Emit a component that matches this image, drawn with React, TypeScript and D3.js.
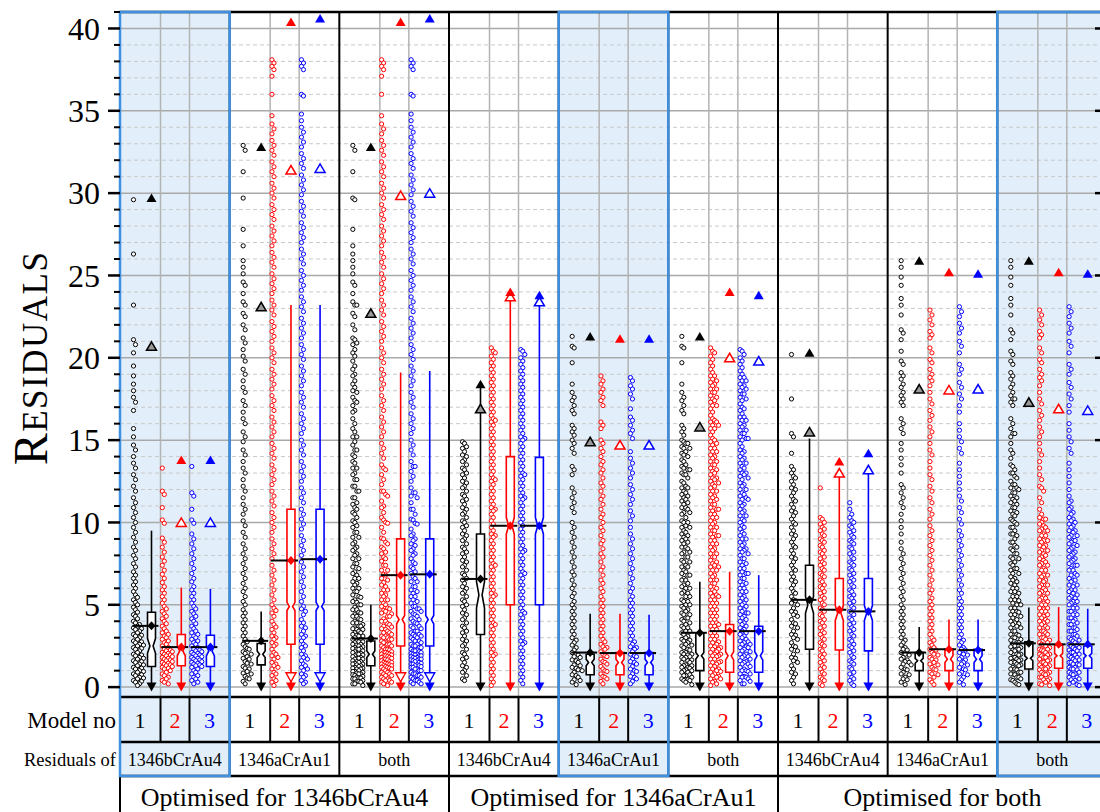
import React from 'react';
import * as d3 from 'd3';

const W = 1100;
const H = 812;

// ---------- residual samples: optimised for 1346bCrAu4 ----------
const optB_resB_m1 = [29.6, 26.3, 23.2, 21.1, 20.8, 20.3, 19.5, 18.9, 18.4, 18.0, 17.6, 17.3, 16.8, 15.7, 15.2, 14.7, 14.4, 14.0, 13.6, 13.3, 12.9, 12.6, 12.2, 11.9, 11.5, 11.2, 10.9, 10.6, 10.3, 10.0, 9.7, 9.4, 9.1, 8.8, 8.5, 8.3, 8.0, 7.8, 7.5, 7.3, 7.0, 6.8, 6.6, 6.4, 6.2, 6.0, 5.8, 5.6, 5.45, 5.3, 5.15, 5.0, 4.85, 4.7, 4.55, 4.4, 4.3, 4.15, 4.0, 3.9, 3.8, 3.7, 3.6, 3.5, 3.4, 3.3, 3.2, 3.1, 3.0, 2.9, 2.8, 2.7, 2.6, 2.5, 2.4, 2.3, 2.2, 2.1, 2.0, 1.9, 1.8, 1.7, 1.6, 1.5, 1.4, 1.3, 1.2, 1.1, 1.0, 0.9, 0.8, 0.7, 0.6, 0.5, 0.4, 0.3, 0.2, 0.1, 3.55, 3.15, 2.75, 2.35, 1.95, 1.55, 1.15, 0.75, 0.35, 2.55, 1.75, 0.95, 1.35, 0.55];
const optB_resB_m2 = [13.3, 11.9, 11.7, 10.9, 10.15, 9.95, 9.05, 8.8, 8.5, 8.2, 7.9, 7.65, 7.4, 7.1, 6.85, 6.6, 6.35, 6.1, 5.9, 5.7, 5.5, 5.3, 5.1, 4.9, 4.75, 4.6, 4.45, 4.3, 4.15, 4.0, 3.85, 3.7, 3.55, 3.4, 3.3, 3.2, 3.1, 3.0, 2.9, 2.8, 2.7, 2.6, 2.5, 2.4, 2.3, 2.2, 2.1, 2.0, 1.9, 1.8, 1.7, 1.6, 1.5, 1.4, 1.3, 1.2, 1.1, 1.0, 0.9, 0.8, 0.7, 0.6, 0.5, 0.4, 0.3, 0.2, 2.25, 2.05, 1.85, 1.65, 1.45, 1.25, 1.95, 1.75, 1.55, 1.35, 2.15, 1.15];
const optB_resB_m3 = [13.4, 11.8, 11.6, 10.8, 10.15, 9.95, 9.3, 9.0, 8.7, 8.4, 8.1, 7.8, 7.5, 7.2, 6.9, 6.6, 6.4, 6.1, 5.9, 5.7, 5.5, 5.3, 5.1, 4.9, 4.75, 4.6, 4.45, 4.3, 4.15, 4.0, 3.85, 3.7, 3.55, 3.4, 3.3, 3.2, 3.1, 3.0, 2.9, 2.8, 2.7, 2.6, 2.5, 2.4, 2.3, 2.2, 2.1, 2.0, 1.9, 1.8, 1.7, 1.6, 1.5, 1.4, 1.3, 1.2, 1.1, 1.0, 0.9, 0.8, 0.7, 0.6, 0.5, 0.4, 0.3, 0.2, 2.25, 2.05, 1.85, 1.65, 1.45, 1.25, 1.95, 1.75, 1.55, 1.35, 2.15];
const optB_resA_m1 = [32.9, 32.6, 31.3, 29.7, 27.8, 26.8, 25.9, 25.5, 25.1, 24.6, 24.4, 23.9, 23.4, 23.2, 22.7, 22.5, 22.0, 21.7, 21.2, 20.9, 20.5, 20.1, 19.8, 19.3, 19.0, 18.6, 18.2, 17.9, 17.4, 17.1, 16.7, 16.3, 16.0, 15.5, 15.2, 14.9, 14.4, 14.1, 13.7, 13.3, 13.0, 12.6, 12.2, 11.9, 11.5, 11.1, 10.8, 10.5, 10.1, 9.8, 9.4, 9.1, 8.7, 8.4, 8.1, 7.8, 7.5, 7.2, 6.9, 6.6, 6.3, 6.0, 5.8, 5.5, 5.2, 5.0, 4.7, 4.5, 4.3, 4.1, 3.9, 3.7, 3.5, 3.3, 3.1, 2.9, 2.75, 2.6, 2.45, 2.3, 2.15, 2.0, 1.85, 1.7, 1.55, 1.4, 1.25, 1.1, 0.95, 0.8, 0.65, 0.5, 0.35, 0.2, 2.05, 1.75, 1.45, 1.15, 0.85, 0.55, 2.35];
const optB_resA_m2 = [38.1, 37.9, 37.7, 37.5, 37.1, 36.0, 34.7, 34.2, 33.9, 33.6, 33.2, 32.9, 32.6, 32.3, 31.9, 31.6, 31.3, 31.0, 30.6, 30.3, 30.0, 29.7, 29.3, 29.0, 28.7, 28.4, 28.0, 27.7, 27.4, 27.1, 26.8, 26.4, 26.1, 25.8, 25.5, 25.1, 24.8, 24.5, 24.2, 23.9, 23.5, 23.2, 22.9, 22.6, 22.2, 21.9, 21.6, 21.3, 21.0, 20.6, 20.3, 20.0, 19.7, 19.3, 19.0, 18.7, 18.4, 18.1, 17.7, 17.4, 17.1, 16.8, 16.4, 16.1, 15.8, 15.5, 15.2, 14.8, 14.5, 14.2, 13.9, 13.5, 13.2, 12.9, 12.6, 12.3, 11.9, 11.6, 11.3, 11.0, 10.6, 10.3, 10.0, 9.7, 9.4, 9.0, 8.7, 8.4, 8.1, 7.8, 7.4, 7.1, 6.8, 6.5, 6.2, 5.9, 5.6, 5.3, 5.0, 4.8, 4.5, 4.3, 4.0, 3.8, 3.5, 3.3, 3.1, 2.9, 2.7, 2.5, 2.3, 2.1, 1.9, 1.7, 1.5, 1.3, 1.1, 0.9, 0.7, 0.5, 0.3, 0.1, 4.65, 3.65, 2.6, 2.0, 1.4, 0.8, 0.4, 3.0, 1.8, 1.2];
const optB_resA_m3 = [38.1, 37.9, 37.7, 37.5, 36.0, 35.9, 34.8, 34.4, 34.0, 33.7, 33.4, 33.1, 32.8, 32.4, 32.1, 31.8, 31.5, 31.1, 30.8, 30.5, 30.2, 29.9, 29.5, 29.2, 28.9, 28.6, 28.2, 27.9, 27.6, 27.3, 27.0, 26.6, 26.3, 26.0, 25.7, 25.3, 25.0, 24.7, 24.4, 24.1, 23.7, 23.4, 23.1, 22.8, 22.4, 22.1, 21.8, 21.5, 21.2, 20.8, 20.5, 20.2, 19.9, 19.5, 19.2, 18.9, 18.6, 18.3, 17.9, 17.6, 17.3, 17.0, 16.6, 16.3, 16.0, 15.7, 15.4, 15.0, 14.7, 14.4, 14.1, 13.7, 13.4, 13.1, 12.8, 12.5, 12.1, 11.8, 11.5, 11.2, 10.8, 10.5, 10.2, 9.9, 9.6, 9.2, 8.9, 8.6, 8.3, 8.0, 7.6, 7.3, 7.0, 6.7, 6.4, 6.1, 5.8, 5.5, 5.2, 4.9, 4.6, 4.4, 4.1, 3.9, 3.6, 3.4, 3.2, 3.0, 2.8, 2.6, 2.4, 2.2, 2.0, 1.8, 1.6, 1.4, 1.2, 1.0, 0.8, 0.6, 0.4, 0.2, 4.75, 3.7, 2.5, 1.9, 1.3, 0.7, 0.3, 3.1, 1.7, 1.1];

// ---------- residual samples: optimised for 1346aCrAu1 ----------
const optA_resB_m1 = [14.9, 14.8, 14.6, 14.5, 14.3, 14.1, 14.0, 13.8, 13.7, 13.5, 13.3, 13.2, 13.0, 12.9, 12.7, 12.5, 12.4, 12.2, 12.1, 11.9, 11.7, 11.6, 11.4, 11.3, 11.1, 10.9, 10.8, 10.6, 10.5, 10.3, 10.1, 10.0, 9.8, 9.7, 9.5, 9.3, 9.2, 9.0, 8.9, 8.7, 8.5, 8.4, 8.2, 8.1, 7.9, 7.7, 7.6, 7.4, 7.3, 7.1, 6.9, 6.8, 6.6, 6.5, 6.3, 6.1, 6.0, 5.8, 5.7, 5.5, 5.3, 5.2, 5.0, 4.9, 4.7, 4.5, 4.4, 4.2, 4.1, 3.9, 3.7, 3.6, 3.4, 3.3, 3.1, 2.9, 2.8, 2.6, 2.5, 2.3, 2.1, 2.0, 1.8, 1.7, 1.5, 1.3, 1.2, 1.0, 0.9, 0.7, 0.5, 0.4];
const optA_resB_m2 = [20.6, 20.4, 20.3, 20.1, 19.9, 19.7, 19.5, 19.3, 19.1, 18.9, 18.7, 18.5, 18.3, 18.1, 17.9, 17.7, 17.5, 17.3, 17.1, 16.9, 16.7, 16.5, 16.3, 16.1, 15.9, 15.7, 15.5, 15.3, 15.1, 14.9, 14.7, 14.5, 14.3, 14.1, 13.9, 13.7, 13.5, 13.3, 13.1, 12.9, 12.7, 12.5, 12.3, 12.1, 11.9, 11.7, 11.5, 11.3, 11.1, 10.9, 10.7, 10.5, 10.3, 10.1, 9.9, 9.7, 9.5, 9.3, 9.1, 8.9, 8.7, 8.5, 8.3, 8.1, 7.9, 7.7, 7.5, 7.3, 7.1, 6.9, 6.7, 6.5, 6.3, 6.1, 5.9, 5.7, 5.5, 5.3, 5.1, 4.9, 4.7, 4.5, 4.3, 4.1, 3.9, 3.7, 3.5, 3.3, 3.1, 2.9, 2.7, 2.5, 2.3, 2.1, 1.9, 1.7, 1.5, 1.3, 1.1, 0.9, 0.7, 0.5, 0.3, 0.1, 12.6, 10.8, 9.2, 7.4, 5.6, 3.8, 2.0, 16.2];
const optA_resB_m3 = [20.5, 20.4, 20.2, 20.0, 19.8, 19.6, 19.4, 19.2, 19.0, 18.8, 18.6, 18.4, 18.2, 18.0, 17.8, 17.6, 17.4, 17.2, 17.0, 16.8, 16.6, 16.4, 16.2, 16.0, 15.8, 15.6, 15.4, 15.2, 15.0, 14.8, 14.6, 14.4, 14.2, 14.0, 13.8, 13.6, 13.4, 13.2, 13.0, 12.8, 12.6, 12.4, 12.2, 12.0, 11.8, 11.6, 11.4, 11.2, 11.0, 10.8, 10.6, 10.4, 10.2, 10.0, 9.8, 9.6, 9.4, 9.2, 9.0, 8.8, 8.6, 8.4, 8.2, 8.0, 7.8, 7.6, 7.4, 7.2, 7.0, 6.8, 6.6, 6.4, 6.2, 6.0, 5.8, 5.6, 5.4, 5.2, 5.0, 4.8, 4.6, 4.4, 4.2, 4.0, 3.8, 3.6, 3.4, 3.2, 3.0, 2.8, 2.6, 2.4, 2.2, 2.0, 1.8, 1.6, 1.4, 1.2, 1.0, 0.8, 0.6, 0.4, 0.2, 15.1, 12.9, 11.5, 8.3, 6.9, 4.5, 2.7];
const optA_resA_m1 = [21.3, 20.7, 20.6, 19.7, 18.4, 17.9, 17.6, 17.4, 17.1, 16.8, 16.6, 15.9, 15.7, 15.5, 15.3, 15.0, 14.8, 14.5, 14.2, 13.4, 13.2, 12.9, 12.1, 11.8, 11.5, 11.2, 10.9, 10.6, 10.0, 9.7, 9.4, 9.1, 8.8, 8.5, 8.2, 7.9, 7.6, 7.3, 7.0, 6.8, 6.5, 6.2, 6.0, 5.7, 5.5, 5.2, 5.0, 4.8, 4.6, 4.4, 4.2, 4.0, 3.8, 3.6, 3.4, 3.2, 3.0, 2.85, 2.7, 2.55, 2.4, 2.25, 2.1, 1.95, 1.8, 1.65, 1.5, 1.35, 1.2, 1.05, 0.9, 0.75, 0.6, 0.45, 0.3, 0.15, 2.0, 1.6, 1.3, 1.0, 0.7, 0.4, 1.85, 1.15];
const optA_resA_m2 = [18.9, 18.6, 18.4, 18.1, 17.9, 17.6, 17.4, 17.1, 16.1, 15.9, 15.7, 15.0, 14.8, 14.5, 14.3, 14.0, 13.7, 13.5, 13.2, 13.0, 12.7, 12.4, 12.2, 11.9, 11.6, 11.4, 11.1, 10.8, 10.5, 10.3, 10.0, 9.7, 9.5, 9.2, 8.9, 8.7, 8.4, 8.1, 7.9, 7.6, 7.3, 7.1, 6.8, 6.5, 6.3, 6.0, 5.8, 5.5, 5.3, 5.1, 4.9, 4.7, 4.5, 4.3, 4.1, 3.9, 3.7, 3.5, 3.3, 3.1, 2.9, 2.75, 2.6, 2.45, 2.3, 2.15, 2.0, 1.85, 1.7, 1.55, 1.4, 1.25, 1.1, 0.95, 0.8, 0.65, 0.5, 0.35, 0.2, 2.4, 1.9, 1.5, 1.0, 0.6];
const optA_resA_m3 = [18.8, 18.6, 18.3, 18.1, 17.8, 17.5, 16.9, 16.4, 16.2, 15.9, 15.6, 15.4, 15.1, 14.3, 13.9, 13.6, 13.3, 13.0, 12.7, 12.3, 12.0, 11.7, 11.4, 11.1, 10.7, 10.4, 10.1, 9.7, 9.3, 9.0, 8.7, 8.4, 8.1, 7.8, 7.5, 7.2, 6.9, 6.6, 6.3, 6.0, 5.8, 5.5, 5.3, 5.1, 4.9, 4.7, 4.5, 4.3, 4.1, 3.9, 3.7, 3.5, 3.3, 3.1, 2.9, 2.75, 2.6, 2.45, 2.3, 2.15, 2.0, 1.85, 1.7, 1.55, 1.4, 1.25, 1.1, 0.95, 0.8, 0.65, 0.5, 0.35, 0.2, 2.4, 1.9, 1.5, 1.0, 0.6];

// ---------- residual samples: optimised for both ----------
const optAB_resB_m1 = [20.2, 17.5, 15.4, 15.2, 14.2, 13.4, 13.2, 13.0, 12.8, 12.7, 12.5, 12.3, 12.1, 12.0, 11.8, 11.6, 11.4, 11.3, 11.1, 10.9, 10.7, 10.6, 10.4, 10.2, 10.0, 9.9, 9.7, 9.5, 9.3, 9.2, 9.0, 8.8, 8.6, 8.5, 8.3, 8.1, 7.9, 7.8, 7.6, 7.4, 7.2, 7.1, 6.9, 6.7, 6.5, 6.4, 6.2, 6.0, 5.8, 5.7, 5.5, 5.3, 5.1, 5.0, 4.8, 4.6, 4.4, 4.3, 4.1, 3.9, 3.7, 3.6, 3.4, 3.2, 3.0, 2.9, 2.7, 2.5, 2.3, 2.2, 2.0, 1.8, 1.6, 1.5, 1.3, 1.1, 0.9, 0.8, 0.6, 0.4, 0.2, 5.25, 4.55, 3.85, 3.15, 2.45, 1.75];
const optAB_resB_m2 = [12.1, 10.3, 10.2, 10.0, 9.9, 9.7, 9.6, 9.5, 9.3, 9.2, 9.0, 8.9, 8.8, 8.6, 8.5, 8.3, 8.2, 8.1, 7.9, 7.8, 7.6, 7.5, 7.4, 7.2, 7.1, 6.9, 6.8, 6.7, 6.5, 6.4, 6.2, 6.1, 6.0, 5.8, 5.7, 5.5, 5.4, 5.3, 5.1, 5.0, 4.8, 4.7, 4.6, 4.4, 4.3, 4.1, 4.0, 3.9, 3.7, 3.6, 3.4, 3.3, 3.2, 3.0, 2.9, 2.7, 2.6, 2.5, 2.3, 2.2, 2.0, 1.9, 1.8, 1.6, 1.5, 1.3, 1.2, 1.1, 0.9, 0.8, 0.6, 0.5, 0.4, 0.2, 0.1];
const optAB_resB_m3 = [11.2, 10.8, 10.5, 10.3, 10.1, 10.0, 9.8, 9.7, 9.5, 9.4, 9.2, 9.1, 8.9, 8.8, 8.7, 8.5, 8.4, 8.2, 8.1, 7.9, 7.8, 7.6, 7.5, 7.4, 7.2, 7.1, 6.9, 6.8, 6.6, 6.5, 6.4, 6.2, 6.1, 5.9, 5.8, 5.6, 5.5, 5.4, 5.2, 5.1, 4.9, 4.8, 4.6, 4.5, 4.4, 4.2, 4.1, 3.9, 3.8, 3.6, 3.5, 3.4, 3.2, 3.1, 2.9, 2.8, 2.6, 2.5, 2.4, 2.2, 2.1, 1.9, 1.8, 1.6, 1.5, 1.4, 1.2, 1.1, 0.9, 0.8, 0.6, 0.5, 0.4, 0.2, 0.1];
const optAB_resA_m1 = [25.9, 25.5, 24.9, 24.4, 23.6, 23.2, 22.6, 21.7, 21.5, 21.1, 20.4, 19.8, 19.6, 19.1, 18.9, 18.7, 18.4, 18.2, 17.9, 17.7, 17.5, 17.3, 17.1, 16.3, 16.0, 15.7, 15.4, 14.8, 14.4, 13.9, 13.5, 13.0, 12.3, 12.1, 11.8, 11.5, 11.2, 10.9, 10.5, 10.1, 9.7, 9.3, 8.8, 8.4, 8.1, 7.8, 7.5, 7.2, 6.9, 6.6, 6.3, 6.0, 5.8, 5.5, 5.3, 5.0, 4.8, 4.6, 4.4, 4.2, 4.0, 3.8, 3.6, 3.4, 3.2, 3.0, 2.85, 2.7, 2.55, 2.4, 2.25, 2.1, 1.95, 1.8, 1.65, 1.5, 1.35, 1.2, 1.05, 0.9, 0.75, 0.6, 0.45, 0.3, 0.15, 2.0, 1.7, 1.4, 1.1, 0.8, 0.5, 2.3, 1.55];
const optAB_resA_m2 = [22.9, 22.6, 22.3, 22.0, 21.6, 21.4, 21.2, 20.6, 20.3, 19.9, 19.7, 19.3, 19.0, 18.8, 18.6, 18.3, 17.9, 17.5, 17.2, 16.8, 16.5, 16.2, 15.8, 15.5, 15.2, 14.8, 14.4, 14.1, 13.7, 13.3, 12.9, 12.6, 12.2, 11.9, 11.5, 11.2, 10.8, 10.5, 10.2, 9.8, 9.5, 9.2, 8.9, 8.6, 8.3, 8.0, 7.7, 7.4, 7.1, 6.8, 6.5, 6.2, 5.9, 5.7, 5.4, 5.2, 5.0, 4.8, 4.6, 4.4, 4.2, 4.0, 3.8, 3.6, 3.4, 3.2, 3.0, 2.85, 2.7, 2.55, 2.4, 2.25, 2.1, 1.95, 1.8, 1.65, 1.5, 1.35, 1.2, 1.05, 0.9, 0.75, 0.6, 0.45, 0.3, 0.15, 2.0, 1.7, 1.4, 1.1, 0.8, 2.3];
const optAB_resA_m3 = [23.1, 22.8, 22.5, 22.1, 21.8, 21.5, 21.0, 20.7, 20.3, 19.6, 19.3, 19.0, 18.5, 18.2, 17.8, 17.5, 17.1, 16.7, 16.0, 15.6, 15.2, 14.9, 14.5, 14.2, 13.6, 13.2, 12.8, 12.4, 12.0, 11.6, 11.3, 10.9, 10.6, 10.2, 9.9, 9.5, 9.2, 8.9, 8.6, 8.3, 8.0, 7.7, 7.4, 7.1, 6.8, 6.5, 6.2, 5.9, 5.7, 5.4, 5.2, 5.0, 4.8, 4.6, 4.4, 4.2, 4.0, 3.8, 3.6, 3.4, 3.2, 3.0, 2.85, 2.7, 2.55, 2.4, 2.25, 2.1, 1.95, 1.8, 1.65, 1.5, 1.35, 1.2, 1.05, 0.9, 0.75, 0.6, 0.45, 0.3, 0.15, 2.0, 1.7, 1.4, 1.1, 0.8, 2.3];

// ---------- per-column summaries (group-major: 9 groups x models 1,2,3) ----------
const boxLow = [1.25, 1.3, 1.25, 1.35, 2.6, 2.6, 1.3, 2.5, 2.5, 3.2, 5.0, 5.0, 0.75, 0.75, 0.75, 1.0, 0.9, 0.9, 2.3, 2.25, 2.2, 1.0, 1.0, 1.0, 1.1, 1.15, 1.15];
const boxMid = [2.5, 2.2, 2.2, 2.0, 4.9, 4.9, 2.0, 4.1, 4.1, 5.6, 9.8, 9.8, 1.5, 1.5, 1.5, 1.9, 1.9, 1.9, 5.0, 4.5, 4.5, 1.6, 1.7, 1.7, 1.75, 1.9, 1.9];
const boxHigh = [4.55, 3.2, 3.15, 2.65, 10.8, 10.8, 2.8, 9.0, 9.0, 9.3, 14.0, 13.95, 2.0, 2.1, 2.1, 3.3, 3.8, 3.7, 7.4, 6.6, 6.6, 2.1, 2.3, 2.3, 2.75, 2.55, 2.5];
const whiskerHigh = [9.5, 6.05, 5.97, 4.6, 23.2, 23.2, 5.0, 19.1, 19.2, 18.4, 23.8, 23.5, 4.45, 4.45, 4.4, 6.4, 7.0, 6.8, 15.1, 13.0, 13.2, 3.65, 4.1, 4.1, 4.84, 4.86, 4.76];
const meanValue = [3.72, 2.43, 2.43, 2.81, 7.69, 7.77, 2.95, 6.8, 6.85, 6.57, 9.8, 9.8, 2.1, 2.07, 2.07, 3.3, 3.4, 3.4, 5.3, 4.7, 4.6, 2.1, 2.3, 2.25, 2.66, 2.6, 2.6];
const peakMark = [29.7, 13.8, 13.8, 32.8, 40.4, 40.6, 32.8, 40.4, 40.6, 18.4, 24.0, 23.8, 21.3, 21.15, 21.15, 21.3, 24.0, 23.8, 20.3, 13.7, 14.2, 25.9, 25.2, 25.1, 25.9, 25.2, 25.1];
const upperMark = [20.7, 10.0, 10.0, 23.1, 31.4, 31.5, 22.7, 29.85, 30.0, 16.9, 23.7, 23.4, 14.9, 14.7, 14.7, 15.8, 20.0, 19.8, 15.5, 13.0, 13.2, 18.1, 18.05, 18.1, 17.3, 16.9, 16.8];
const notchHalf = [0.45, 0.3, 0.3, 0.2, 0.25, 0.25, 0.2, 0.25, 0.25, 0.8, 0.5, 0.5, 0.2, 0.2, 0.2, 0.2, 0.25, 0.25, 0.5, 0.45, 0.45, 0.15, 0.2, 0.2, 0.15, 0.15, 0.15];
const lowerMark: (number | null)[] = [null, null, null, null, 0.6, 0.6, null, 0.6, 0.6, null, null, null, null, null, null, null, null, null, null, null, null, null, null, null, null, null, null];
const minValue = 0;

// ---------- labels ----------
const optimisedFor = ['Optimised for 1346bCrAu4', 'Optimised for 1346aCrAu1', 'Optimised for both'];
const residualsOf = ['1346bCrAu4', '1346aCrAu1', 'both'];
const modelNumbers = ['1', '2', '3'];
const modelColors = ['#000000', '#ff0000', '#0000ff'];
const highlightedGroups = [0, 4, 8];
const yTicks = [0, 5, 10, 15, 20, 25, 30, 35, 40];

const joinSets = (a: number[], b: number[]) => a.concat(b);

const groupSamples: number[][][] = [
  [optB_resB_m1, optB_resB_m2, optB_resB_m3],
  [optB_resA_m1, optB_resA_m2, optB_resA_m3],
  [joinSets(optB_resB_m1, optB_resA_m1), joinSets(optB_resB_m2, optB_resA_m2), joinSets(optB_resB_m3, optB_resA_m3)],
  [optA_resB_m1, optA_resB_m2, optA_resB_m3],
  [optA_resA_m1, optA_resA_m2, optA_resA_m3],
  [joinSets(optA_resB_m1, optA_resA_m1), joinSets(optA_resB_m2, optA_resA_m2), joinSets(optA_resB_m3, optA_resA_m3)],
  [optAB_resB_m1, optAB_resB_m2, optAB_resB_m3],
  [optAB_resA_m1, optAB_resA_m2, optAB_resA_m3],
  [joinSets(optAB_resB_m1, optAB_resA_m1), joinSets(optAB_resB_m2, optAB_resA_m2), joinSets(optAB_resB_m3, optAB_resA_m3)],
];

const FONT = "'Liberation Serif', 'DejaVu Serif', serif";
const HL_FILL = '#e2effb';
const HL_STROKE = '#3f90e0';

// plot geometry
const PLOT_TOP = 12;
const PLOT_BOTTOM = 697;
const ROW1 = 742;
const ROW2 = 776;
const LEFT = 120;
const RIGHT = 1107;
const SUB_EDGES = [40.5, 69.5];
const POINT_OFFSETS = [13.5, 42.3, 71.8];
const BOX_OFFSETS = [31.5, 61.3, 90.4];
const CELL_CENTERS = [20, 55, 89.5];

// stack circles sideways where they would overlap vertically
function dodge(values: number[], y: (v: number) => number, laneStep = 2, gap = 6.5, lanes = 6) {
  const pts = values.map((v) => ({ v, py: y(v) })).sort((a, b) => a.py - b.py);
  const last = new Array(lanes).fill(-1e9);
  return pts.map((p) => {
    let k = last.findIndex((l) => p.py - l >= gap);
    if (k < 0) {
      k = 0;
      for (let i = 1; i < lanes; i++) if (last[i] < last[k]) k = i;
    }
    last[k] = p.py;
    return { ...p, dx: k * laneStep };
  });
}

const upTri = (cx: number, cy: number) => `M${cx - 5},${cy + 4}L${cx + 5},${cy + 4}L${cx},${cy - 4.5}Z`;
const downTri = (cx: number, cy: number) => `M${cx - 5},${cy - 4.5}L${cx + 5},${cy - 4.5}L${cx},${cy + 4.5}Z`;

export default function App() {
  const y = d3.scaleLinear().domain([-0.6, 41]).range([PLOT_BOTTOM, PLOT_TOP]);
  const gx = d3.scaleBand<number>().domain(d3.range(9)).range([LEFT, RIGHT]).paddingInner(0).paddingOuter(0);
  const bw = gx.bandwidth();
  const gridValues = d3.range(0, 41);
  const minorTicks = d3.range(0, 42).filter((v) => v % 5 !== 0);

  const columns = groupSamples.flatMap((models, gi) =>
    models.map((vals, mi) => {
      const idx = gi * 3 + mi;
      const g = gx(gi) as number;
      return {
        idx,
        gi,
        mi,
        color: modelColors[mi],
        px: g + POINT_OFFSETS[mi],
        bx: g + BOX_OFFSETS[mi],
        pts: dodge(vals, y),
      };
    })
  );

  const notchPath = (bx: number, i: number) => {
    const hw = 4;
    const pinch = 1.6;
    const q1 = y(boxLow[i]);
    const q3 = y(boxHigh[i]);
    const md = y(boxMid[i]);
    const nTop = Math.max(q3, y(boxMid[i] + notchHalf[i]));
    const nBot = Math.min(q1, y(boxMid[i] - notchHalf[i]));
    return `M${bx - hw},${q3}L${bx + hw},${q3}L${bx + hw},${nTop}L${bx + pinch},${md}L${bx + hw},${nBot}L${bx + hw},${q1}L${bx - hw},${q1}L${bx - hw},${nBot}L${bx - pinch},${md}L${bx - hw},${nTop}Z`;
  };

  return (
    <svg
      width={W}
      height={H}
      style={{ position: 'fixed', left: 0, top: 0, background: '#ffffff' }}
      fontFamily={FONT}
    >
      <rect x={0} y={0} width={W} height={H} fill="#ffffff" />

      {/* highlighted panels */}
      {highlightedGroups.map((gi) => (
        <rect key={`hl-${gi}`} x={gx(gi)} y={PLOT_TOP} width={bw} height={ROW2 - PLOT_TOP} fill={HL_FILL} />
      ))}

      {/* horizontal grid */}
      {gridValues.map((v) => (
        <line
          key={`grid-${v}`}
          x1={LEFT}
          x2={RIGHT}
          y1={y(v)}
          y2={y(v)}
          stroke={v % 5 === 0 ? '#a9a9a9' : '#c9c9c9'}
          strokeWidth={v % 5 === 0 ? 1.5 : 1}
          strokeDasharray={v % 5 === 0 ? undefined : '4,3'}
        />
      ))}

      {/* model separators inside each panel */}
      {d3.range(9).flatMap((gi) =>
        SUB_EDGES.map((off, k) => (
          <line
            key={`sub-${gi}-${k}`}
            x1={(gx(gi) as number) + off}
            x2={(gx(gi) as number) + off}
            y1={PLOT_TOP}
            y2={PLOT_BOTTOM}
            stroke="#b3b3b3"
            strokeWidth={1.5}
          />
        ))
      )}

      {/* residual points */}
      {columns.map((c) => (
        <g key={`pts-${c.idx}`} fill="#ffffff" stroke={c.color} strokeWidth={1}>
          {c.pts.map((p, j) => (
            <circle key={j} cx={c.px + p.dx} cy={p.py} r={2.1} />
          ))}
        </g>
      ))}

      {/* whiskers, boxes, means and extreme markers */}
      {columns.map((c) => {
        const i = c.idx;
        const lm = lowerMark[i];
        return (
          <g key={`box-${i}`}>
            <line x1={c.bx} x2={c.bx} y1={y(minValue)} y2={y(whiskerHigh[i])} stroke={c.color} strokeWidth={1.6} />
            <path d={notchPath(c.bx, i)} fill="#ffffff" stroke={c.color} strokeWidth={1.6} />
            <line x1={c.px - 1} x2={c.bx + 7} y1={y(meanValue[i])} y2={y(meanValue[i])} stroke="#000000" strokeWidth={2} />
            <path
              d={`M${c.bx},${y(meanValue[i]) - 4.5}L${c.bx + 4},${y(meanValue[i])}L${c.bx},${y(meanValue[i]) + 4.5}L${c.bx - 4},${y(meanValue[i])}Z`}
              fill={c.color}
            />
            <path d={upTri(c.bx, y(upperMark[i]))} fill={c.mi === 0 ? '#9a9a9a' : '#ffffff'} stroke={c.color} strokeWidth={1.5} />
            <path d={upTri(c.bx, y(peakMark[i]))} fill={c.color} />
            {lm !== null && (
              <path d={downTri(c.bx, y(lm))} fill="#ffffff" stroke={c.color} strokeWidth={1.4} />
            )}
            <path d={downTri(c.bx, y(minValue))} fill={c.color} />
          </g>
        );
      })}

      {/* panel borders in plot */}
      {d3.range(10).map((gi) => {
        const x = gi < 9 ? (gx(gi) as number) : RIGHT;
        return <line key={`gb-${gi}`} x1={x} x2={x} y1={PLOT_TOP - 1} y2={PLOT_BOTTOM} stroke="#000" strokeWidth={2} />;
      })}
      <line x1={LEFT} x2={RIGHT} y1={PLOT_TOP} y2={PLOT_TOP} stroke="#000" strokeWidth={2.5} />

      {/* table: horizontal rules */}
      {[PLOT_BOTTOM, ROW1, ROW2].map((yy) => (
        <line key={`hr-${yy}`} x1={LEFT} x2={RIGHT} y1={yy} y2={yy} stroke="#000" strokeWidth={2.5} />
      ))}
      {/* row 1 cell edges */}
      {d3.range(9).flatMap((gi) =>
        [0, ...SUB_EDGES].map((off, k) => (
          <line
            key={`r1-${gi}-${k}`}
            x1={(gx(gi) as number) + off}
            x2={(gx(gi) as number) + off}
            y1={PLOT_BOTTOM}
            y2={ROW1}
            stroke="#000"
            strokeWidth={2}
          />
        ))
      )}
      {/* row 2 cell edges */}
      {d3.range(9).map((gi) => (
        <line key={`r2-${gi}`} x1={gx(gi)} x2={gx(gi)} y1={ROW1} y2={ROW2} stroke="#000" strokeWidth={2} />
      ))}
      {/* row 3 cell edges */}
      {[0, 3, 6].map((gi) => (
        <line key={`r3-${gi}`} x1={gx(gi)} x2={gx(gi)} y1={ROW2} y2={H} stroke="#000" strokeWidth={2} />
      ))}

      {/* highlight outlines */}
      {highlightedGroups.map((gi) => (
        <rect
          key={`hlb-${gi}`}
          x={gx(gi)}
          y={PLOT_TOP}
          width={bw}
          height={ROW2 - PLOT_TOP}
          fill="none"
          stroke={HL_STROKE}
          strokeWidth={2.5}
        />
      ))}

      {/* table text */}
      <text x={116} y={728} textAnchor="end" fontSize={23}>Model no</text>
      <text x={116} y={766} textAnchor="end" fontSize={18.5}>Residuals of</text>
      {d3.range(9).flatMap((gi) =>
        modelNumbers.map((m, mi) => (
          <text
            key={`mn-${gi}-${mi}`}
            x={(gx(gi) as number) + CELL_CENTERS[mi]}
            y={728}
            textAnchor="middle"
            fontSize={22}
            fill={modelColors[mi]}
          >
            {m}
          </text>
        ))
      )}
      {d3.range(9).map((gi) => (
        <text key={`ro-${gi}`} x={(gx(gi) as number) + bw / 2} y={766} textAnchor="middle" fontSize={18}>
          {residualsOf[gi % 3]}
        </text>
      ))}
      {optimisedFor.map((t, k) => (
        <text key={`of-${k}`} x={(gx(k * 3) as number) + (bw * 3) / 2} y={806} textAnchor="middle" fontSize={26}>
          {t}
        </text>
      ))}

      {/* left axis */}
      {yTicks.map((v) => (
        <g key={`yt-${v}`}>
          <line x1={LEFT - 12} x2={LEFT} y1={y(v)} y2={y(v)} stroke="#000" strokeWidth={2.5} />
          <line x1={RIGHT - 12} x2={RIGHT} y1={y(v)} y2={y(v)} stroke="#000" strokeWidth={2.5} />
          <text x={100} y={y(v)} dy="0.35em" textAnchor="end" fontSize={32}>
            {v}
          </text>
        </g>
      ))}
      {minorTicks.map((v) => (
        <g key={`ym-${v}`}>
          <line x1={LEFT - 6} x2={LEFT} y1={y(v)} y2={y(v)} stroke="#000" strokeWidth={2} />
          <line x1={RIGHT - 6} x2={RIGHT} y1={y(v)} y2={y(v)} stroke="#000" strokeWidth={2} />
        </g>
      ))}
      <text transform="translate(47,358) rotate(-90)" textAnchor="middle" fontSize={48} letterSpacing={1.5}>
        <tspan>R</tspan>
        <tspan fontSize={35}>ESIDUALS</tspan>
      </text>
    </svg>
  );
}
